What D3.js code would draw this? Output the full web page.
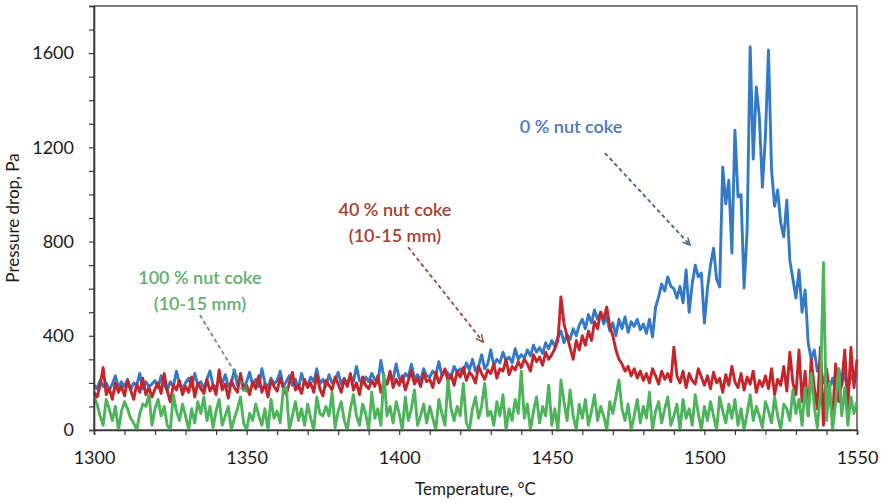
<!DOCTYPE html>
<html>
<head>
<meta charset="utf-8">
<script src="https://cdn.jsdelivr.net/npm/d3@7"></script>
<style>
  body { margin: 0; background: #fff; }
  svg { font-family: Lato, "Open Sans", sans-serif; }
</style>
</head>
<body>
<script>
// temperature axis: one reading per degree from 1300 to 1550
const tempStart = 1300
const tempStep = 1

// 0 % nut coke
const blueValues = [
  190,175,210,185,200,170,195,230,180,205,
  185,215,170,200,190,240,175,205,185,195,
  210,180,230,190,170,205,185,250,195,175,
  200,220,185,240,190,205,175,215,250,190,
  180,210,195,235,185,200,255,190,210,180,
  205,245,190,215,185,260,200,180,220,195,
  210,250,185,205,230,190,215,175,240,200,
  190,225,205,260,195,215,185,235,200,210,
  245,195,220,190,230,205,270,210,195,225,
  205,240,215,200,295,220,195,235,215,280,
  220,205,240,225,280,215,235,210,260,230,
  225,250,235,290,230,255,240,225,270,245,
  260,240,285,255,300,250,270,320,260,280,
  340,275,300,285,330,295,310,285,345,300,
  320,305,340,315,360,330,350,325,370,345,
  380,355,395,420,370,405,385,430,400,445,
  470,430,490,455,510,470,500,450,480,420,
  455,400,470,430,480,415,460,440,470,425,
  450,410,470,395,520,565,620,590,650,610,
  600,560,610,540,680,500,620,700,650,666,
  454,600,700,772,640,607,1116,960,1060,751,
  1273,990,1000,603,849,1626,1150,1456,1329,1031,
  1250,1613,1104,950,1019,880,820,976,720,640,
  560,680,500,594,370,300,340,250,280,200,
  240,180,220,160,260,190,240,170,230,210,
  240
]

// 40 % nut coke (10-15 mm)
const redValues = [
  160,140,190,265,150,175,130,200,160,185,
  145,210,170,130,195,160,220,150,180,140,
  175,200,155,240,165,120,190,170,210,150,
  185,160,225,140,200,175,155,215,165,190,
  150,255,170,195,135,210,180,160,240,170,
  190,150,205,175,230,160,195,140,210,185,
  165,220,180,150,200,245,170,190,155,215,
  180,200,160,235,175,145,210,190,170,225,
  195,160,215,185,240,170,200,150,225,190,
  175,210,185,230,160,205,195,250,180,215,
  190,230,170,210,250,195,220,185,240,205,
  215,180,245,200,230,260,205,235,190,250,
  225,265,210,245,230,200,270,240,215,255,
  240,280,220,260,250,300,235,270,255,290,
  265,300,280,250,320,290,310,275,330,300,
  320,345,380,565,450,400,350,300,380,340,
  400,360,420,380,460,430,500,470,522,440,
  400,340,300,280,250,270,230,260,220,250,
  210,240,200,260,230,195,250,215,240,205,
  352,230,200,250,180,240,210,195,260,225,
  190,230,175,245,200,220,160,235,190,270,
  205,180,240,170,225,195,250,160,210,185,
  230,175,260,150,215,190,270,165,330,200,
  150,340,120,250,60,300,180,90,350,20,
  260,150,50,280,120,200,340,90,350,180,
  300
]

// 100 % nut coke (10-15 mm)
const greenValues = [
  140,110,60,20,130,90,40,100,0,80,
  120,90,50,30,0,70,110,100,150,20,
  90,130,60,100,20,0,150,80,40,110,
  60,0,90,30,120,70,140,40,100,10,
  80,130,20,60,100,0,50,90,140,30,
  0,70,40,110,60,20,90,0,130,50,
  80,30,170,180,0,60,120,40,90,20,
  110,50,0,140,70,60,100,60,160,10,
  80,120,40,0,90,150,60,20,110,70,
  0,160,50,90,20,237,60,100,30,120,
  70,0,140,40,90,170,20,60,110,30,
  100,50,0,130,70,20,212,90,40,100,
  60,198,30,0,90,140,50,100,198,60,
  80,20,120,60,150,0,90,40,130,70,
  250,50,110,0,80,140,30,100,60,190,
  20,90,0,212,120,40,170,60,0,110,
  50,130,20,80,150,40,100,60,0,120,
  70,140,212,90,40,110,0,60,130,30,
  100,50,160,0,80,120,30,90,140,20,
  60,110,0,130,50,90,20,150,70,0,
  100,40,120,60,0,140,80,30,110,50,
  130,20,90,0,70,150,40,100,60,10,
  120,80,30,140,60,0,110,90,40,170,
  70,130,20,180,60,240,100,10,150,710,
  40,200,0,120,260,60,180,20,140,70,
  120
]

const xTicks = [1300, 1350, 1400, 1450, 1500, 1550]
const yTicks = [0, 400, 800, 1200, 1600]

const series = [
  { name: "0 % nut coke", values: blueValues, color: "#3479c6" },
  { name: "40 % nut coke", values: redValues, color: "#c3252b" },
  { name: "100 % nut coke", values: greenValues, color: "#4db45b" }
]

// annotation labels, placed in data units
const notes = [
  { lines: ["0 % nut coke"], at: [1456.3, 1286], from: [1467.4, 1176], to: [1495.3, 785], color: "#4a78c0", arrow: "#45608f" },
  { lines: ["40 % nut coke", "(10-15 mm)"], at: [1398.6, 934], from: [1402.9, 777], to: [1427.5, 374], color: "#a8402f", arrow: "#a0483a" },
  { lines: ["100 % nut coke", "(10-15 mm)"], at: [1334.7, 645], from: [1334.7, 488], to: [1350.1, 161], color: "#62ae6e", arrow: "#5a9a66" }
]

//----------------------------------------------------------------------------------------------
const width = 881
const height = 503
const margin = { top: 6, right: 24, bottom: 73, left: 94 }

const svg = d3.select("body").append("svg")
  .attr("width", width)
  .attr("height", height)

const x = d3.scaleLinear()
  .domain([1300, 1550])
  .range([margin.left, width - margin.right])

const y = d3.scaleLinear()
  .domain([0, 1800])
  .range([height - margin.bottom, margin.top])

const axisColor = "#3a3a3a"

// frame
svg.append("rect")
  .attr("x", x(1300))
  .attr("y", y(1800))
  .attr("width", x(1550) - x(1300))
  .attr("height", y(0) - y(1800))
  .attr("fill", "none")
  .attr("stroke", axisColor)
  .attr("stroke-width", 1.3)

// series
const line = d3.line()
  .x((d, i) => x(tempStart + i * tempStep))
  .y(d => y(d))

series.forEach(s => {
  svg.append("path")
    .datum(s.values)
    .attr("d", line)
    .attr("fill", "none")
    .attr("stroke", s.color)
    .attr("stroke-width", 2.9)
    .attr("stroke-linejoin", "round")
})

// axes
const xAxis = d3.axisBottom(x)
  .tickValues(d3.range(1300, 1551, 10))
  .tickSize(5)
  .tickFormat(d => xTicks.includes(d) ? d : "")

const gx = svg.append("g")
  .attr("transform", `translate(0,${y(0)})`)
  .call(xAxis)
gx.select(".domain").attr("stroke", axisColor).attr("stroke-width", 1.6)
gx.selectAll(".tick line").attr("stroke", axisColor).attr("stroke-width", 1.2)
gx.selectAll(".tick text")
  .attr("fill", "#1a1a1a")
  .attr("font-size", 18)
  .attr("font-family", "Lato")
  .attr("dy", "1.42em")

const yAxis = d3.axisLeft(y)
  .tickValues(d3.range(0, 1801, 100))
  .tickSize(5)
  .tickFormat(d => yTicks.includes(d) ? d : "")

const gy = svg.append("g")
  .attr("transform", `translate(${x(1300)},0)`)
  .call(yAxis)
gy.select(".domain").attr("stroke", axisColor).attr("stroke-width", 1.6)
gy.selectAll(".tick line").attr("stroke", axisColor).attr("stroke-width", 1.2)
gy.selectAll(".tick text")
  .attr("fill", "#1a1a1a")
  .attr("font-size", 18)
  .attr("font-family", "Lato")
  .attr("x", -20)

// axis titles
svg.append("text")
  .attr("x", (x(1300) + x(1550)) / 2)
  .attr("y", 495)
  .attr("text-anchor", "middle")
  .attr("font-size", 17)
  .attr("fill", "#1a1a1a")
  .text("Temperature, °C")

svg.append("text")
  .attr("transform", `translate(19,${y(900)}) rotate(-90)`)
  .attr("text-anchor", "middle")
  .attr("font-size", 17)
  .attr("fill", "#1a1a1a")
  .text("Pressure drop, Pa")

// annotations
const defs = svg.append("defs")
notes.forEach((n, k) => {
  defs.append("marker")
    .attr("id", "head" + k)
    .attr("viewBox", "0 0 10 10")
    .attr("refX", 9)
    .attr("refY", 5)
    .attr("markerWidth", 9)
    .attr("markerHeight", 9)
    .attr("markerUnits", "userSpaceOnUse")
    .attr("orient", "auto")
    .append("path")
    .attr("d", "M1,1 L9,5 L1,9")
    .attr("fill", "none")
    .attr("stroke", n.arrow)
    .attr("stroke-width", 1.6)

  svg.append("line")
    .attr("x1", x(n.from[0]))
    .attr("y1", y(n.from[1]))
    .attr("x2", x(n.to[0]))
    .attr("y2", y(n.to[1]))
    .attr("stroke", n.arrow)
    .attr("stroke-width", 1.8)
    .attr("stroke-dasharray", "4,3")
    .attr("marker-end", `url(#head${k})`)

  n.lines.forEach((t, j) => {
    svg.append("text")
      .attr("x", x(n.at[0]))
      .attr("y", y(n.at[1]) + j * 26)
      .attr("dy", "0.35em")
      .attr("text-anchor", "middle")
      .attr("font-size", 18)
      .attr("font-weight", 600)
      .attr("fill", n.color)
      .text(t)
  })
})
</script>
</body>
</html>
